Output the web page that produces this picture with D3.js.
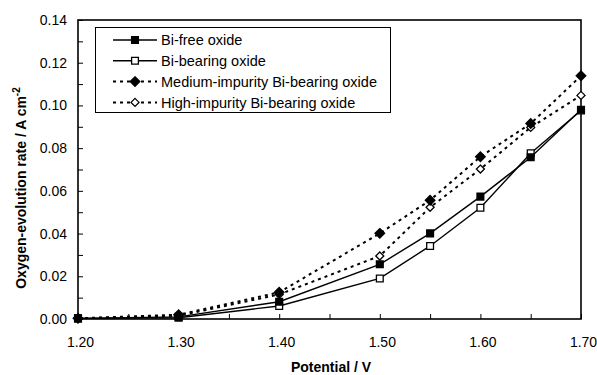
<!DOCTYPE html>
<html>
<head>
<meta charset="utf-8">
<script src="https://cdn.jsdelivr.net/npm/d3@7"></script>
<style>
  html, body { margin: 0; padding: 0; background: #fff; }
  svg { display: block; font-family: "Liberation Sans", Arial, sans-serif; }
</style>
</head>
<body>
<svg id="chart" width="597" height="375"></svg>
<script>
// Potential (V)
const potentials = [1.20, 1.30, 1.40, 1.50, 1.55, 1.60, 1.65, 1.70];

// Oxygen-evolution rate (A cm^-2) for each oxide
const biFree         = [0.0003, 0.0010, 0.0081, 0.0256, 0.0401, 0.0573, 0.0757, 0.0980];
const biBearing      = [0.0003, 0.0006, 0.0061, 0.0190, 0.0342, 0.0521, 0.0776, 0.0976];
const mediumImpurity = [0.0003, 0.0020, 0.0125, 0.0401, 0.0556, 0.0760, 0.0915, 0.1139];
const highImpurity   = [0.0003, 0.0015, 0.0115, 0.0295, 0.0523, 0.0702, 0.0897, 0.1047];

const seriesNames = [
  "Bi-free oxide",
  "Bi-bearing oxide",
  "Medium-impurity Bi-bearing oxide",
  "High-impurity Bi-bearing oxide"
];

const xTickLabels = ["1.20", "1.30", "1.40", "1.50", "1.60", "1.70"];
const yTickLabels = ["0.00", "0.02", "0.04", "0.06", "0.08", "0.10", "0.12", "0.14"];

const series = [
  { name: seriesNames[0], values: biFree,         shape: "square",  filled: true,  dashed: false },
  { name: seriesNames[1], values: biBearing,      shape: "square",  filled: false, dashed: false },
  { name: seriesNames[2], values: mediumImpurity, shape: "diamond", filled: true,  dashed: true },
  { name: seriesNames[3], values: highImpurity,   shape: "diamond", filled: false, dashed: true }
];

const svg = d3.select("#chart");
const plot = { left: 78, right: 581, top: 20, bottom: 319 };

const x = d3.scaleLinear().domain([1.20, 1.70]).range([plot.left, plot.right]);
const y = d3.scaleLinear().domain([0, 0.14]).range([plot.bottom, plot.top]);

// Frame
svg.append("rect")
  .attr("x", plot.left).attr("y", plot.top)
  .attr("width", plot.right - plot.left).attr("height", plot.bottom - plot.top)
  .attr("fill", "none").attr("stroke", "#000").attr("stroke-width", 1.6);

// Bottom axis: inward ticks every 0.05 V, labels every 0.10 V
const xAxis = d3.axisBottom(x)
  .tickValues(d3.range(0, 11).map(i => 1.20 + i * 0.05))
  .tickSizeInner(-5).tickSizeOuter(0)
  .tickFormat(d => {
    const s = d.toFixed(2);
    return xTickLabels.includes(s) ? s : "";
  });
const gx = svg.append("g").attr("transform", `translate(0,${plot.bottom})`).call(xAxis);
gx.select(".domain").remove();
gx.selectAll(".tick line").attr("stroke", "#000").attr("stroke-width", 1);
gx.selectAll(".tick text").attr("font-size", 14).attr("fill", "#000")
  .attr("y", 28).attr("dy", 0).attr("dx", 2);

// Left axis: inward ticks every 0.01, labels every 0.02
const yAxis = d3.axisLeft(y)
  .tickValues(d3.range(0, 15).map(i => i * 0.01))
  .tickSizeInner(-5).tickSizeOuter(0)
  .tickFormat(d => {
    const s = d.toFixed(2);
    return yTickLabels.includes(s) && Math.round(d * 100) % 2 === 0 ? s : "";
  });
const gy = svg.append("g").attr("transform", `translate(${plot.left},0)`).call(yAxis);
gy.select(".domain").remove();
gy.selectAll(".tick line").attr("stroke", "#000").attr("stroke-width", 1);
gy.selectAll(".tick text").attr("font-size", 14).attr("fill", "#000").attr("x", -11);

// Axis titles
svg.append("text")
  .attr("x", 331).attr("y", 372)
  .attr("text-anchor", "middle").attr("font-size", 14).attr("font-weight", "bold")
  .text("Potential / V");

const yTitle = svg.append("text")
  .attr("transform", "translate(26,188) rotate(-90)")
  .attr("text-anchor", "middle").attr("font-size", 14).attr("font-weight", "bold");
yTitle.append("tspan").text("Oxygen-evolution rate / A cm");
yTitle.append("tspan").attr("font-size", 10).attr("dy", -6).text("-2");

// Series lines
const line = d3.line().x((d, i) => x(potentials[i])).y(d => y(d));

function styleLine(sel, s) {
  sel.attr("fill", "none").attr("stroke", "#000");
  if (s.dashed) sel.attr("stroke-width", 2).attr("stroke-dasharray", "3,4");
  else sel.attr("stroke-width", 1.4);
}

series.forEach(s => {
  svg.append("path").datum(s.values).attr("d", line).call(styleLine, s);
});

// Markers
const squareSym = d3.symbol().type(d3.symbolSquare).size(46);
function drawMarker(g, s, cx, cy) {
  if (s.shape === "square") {
    g.append("path").attr("d", squareSym())
      .attr("transform", `translate(${cx},${cy})`)
      .attr("fill", s.filled ? "#000" : "#fff").attr("stroke", "#000").attr("stroke-width", 1.3);
  } else {
    const r = s.filled ? 4.8 : 4.0;
    g.append("path")
      .attr("d", `M0,${-r}L${r},0L0,${r}L${-r},0Z`)
      .attr("transform", `translate(${cx},${cy})`)
      .attr("fill", s.filled ? "#000" : "#fff").attr("stroke", "#000").attr("stroke-width", 1.3);
  }
}

const markerOrder = [3, 2, 1, 0];
markerOrder.forEach(k => {
  const s = series[k];
  const g = svg.append("g");
  s.values.forEach((v, i) => drawMarker(g, s, x(potentials[i]), y(v)));
});

// Legend
const legend = svg.append("g");
legend.append("rect")
  .attr("x", 95.5).attr("y", 27.5).attr("width", 295).attr("height", 85)
  .attr("fill", "#fff").attr("stroke", "#000").attr("stroke-width", 1);
series.forEach((s, i) => {
  const ly = 40 + i * 20.8;
  legend.append("path").attr("d", `M113,${ly}H157`).call(styleLine, s);
  drawMarker(legend, s, 135, ly);
  legend.append("text").attr("x", 161).attr("y", ly).attr("dy", "0.36em")
    .attr("font-size", 14.5).text(s.name);
});
</script>
</body>
</html>
